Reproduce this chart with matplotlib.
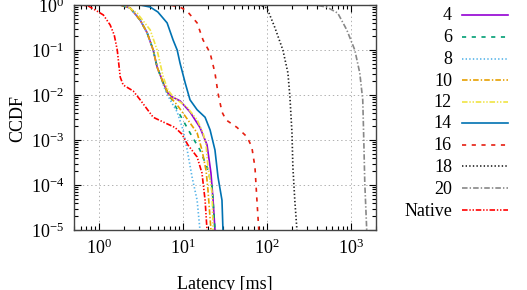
"""CCDF of request latency for different configurations, gnuplot-like look."""
import matplotlib
matplotlib.use("Agg")
import matplotlib.pyplot as plt
from matplotlib.lines import Line2D

plt.rcParams["font.family"] = ["Liberation Serif", "DejaVu Serif"]
plt.rcParams["mathtext.fontset"] = "custom"
plt.rcParams["mathtext.rm"] = "Liberation Serif"
plt.rcParams["mathtext.it"] = "Liberation Serif:italic"
plt.rcParams["mathtext.default"] = "regular"
plt.rcParams["lines.scale_dashes"] = False

W, H = 527, 290

# latency [ms] / CCDF
lat_4 = [0.5, 1.78, 2.34, 3.08, 3.73, 4.4, 4.9, 5.8, 6.6, 7.4, 9.2, 12.1, 15.9, 19.3, 21.5, 22.8, 24.0]
ccdf_4 = [1.0, 1.0, 0.86, 0.46, 0.24, 0.1, 0.042, 0.0185, 0.011, 0.0091, 0.0074, 0.0042, 0.0019, 7.8e-4, 1.85e-4, 4.6e-5, 1.0e-5]

lat_6 = [0.5, 1.78, 2.34, 3.08, 3.73, 4.4, 4.9, 5.8, 6.6, 7.4, 9.2, 12.1, 15.9, 19.3, 22.2, 24.0]
ccdf_6 = [1.0, 1.0, 0.86, 0.46, 0.24, 0.1, 0.042, 0.0185, 0.0105, 0.0078, 0.0036, 0.00144, 6e-4, 2.5e-4, 9e-5, 1.0e-5]

lat_8 = [0.5, 1.78, 2.34, 3.08, 3.73, 4.4, 4.9, 5.3, 6.1, 7.0, 8.5, 10.0, 11.2, 12.8, 14.7, 15.9]
ccdf_8 = [1.0, 1.0, 0.86, 0.46, 0.24, 0.1, 0.042, 0.028, 0.013, 0.0078, 0.0042, 0.00167, 6e-4, 1.5e-4, 4.6e-5, 1.0e-5]

lat_10 = [0.5, 1.78, 2.34, 3.08, 3.73, 4.4, 4.9, 5.8, 6.6, 7.0, 8.5, 11.4, 14.7, 16.8, 18.8, 19.8, 21.5]
ccdf_10 = [1.0, 1.0, 0.86, 0.46, 0.24, 0.1, 0.042, 0.0185, 0.011, 0.0091, 0.006, 0.0028, 0.00144, 6e-4, 2.1e-4, 7.8e-5, 1.0e-5]

lat_12 = [0.5, 2.04, 2.83, 4.05, 4.9, 5.8, 6.6, 7.6, 11.1, 14.7, 17.3, 18.8, 19.8, 22.2, 22.8]
ccdf_12 = [1.0, 1.0, 0.66, 0.28, 0.1, 0.025, 0.013, 0.0091, 0.0054, 0.0028, 0.00144, 7.8e-4, 2.5e-4, 6.6e-5, 1.0e-5]

lat_14 = [0.5, 3.08, 4.05, 5.0, 6.45, 7.6, 8.5, 9.2, 10.6, 12.1, 14.7, 18.3, 21.0, 24.0, 26.1, 29.1, 29.9]
ccdf_14 = [1.0, 1.0, 0.9, 0.7, 0.4, 0.167, 0.1, 0.051, 0.0185, 0.0078, 0.0047, 0.0032, 0.00167, 6e-4, 1.5e-4, 4.6e-5, 1.0e-5]

lat_16 = [0.5, 7.0, 9.2, 11.1, 14.7, 17.3, 21.0, 24.0, 26.1, 29.1, 32.5, 44.0, 58.0, 66.0, 72.0, 76.0, 80.0]
ccdf_16 = [1.0, 1.0, 0.9, 0.74, 0.4, 0.167, 0.086, 0.031, 0.011, 0.0042, 0.0028, 0.0019, 0.00117, 7e-4, 2.5e-4, 4.6e-5, 1.0e-5]

lat_18 = [0.5, 72.0, 87.0, 100.0, 124.0, 155.0, 178.0, 188.0, 199.0, 204.0, 215.0, 228.0]
ccdf_18 = [1.0, 1.0, 0.95, 0.86, 0.32, 0.1, 0.031, 0.0091, 0.00144, 2.5e-4, 4.6e-5, 1.0e-5]

lat_20 = [0.5, 373.0, 518.0, 700.0, 896.0, 1117.0, 1280.0, 1390.0, 1430.0, 1470.0, 1550.0]
ccdf_20 = [1.0, 1.0, 0.9, 0.66, 0.28, 0.1, 0.031, 0.0078, 0.001, 1.1e-4, 1.0e-5]

lat_nat = [0.5, 0.59, 0.74, 0.90, 1.12, 1.35, 1.51, 1.64, 1.78, 1.93, 2.54, 3.08, 4.4, 6.1, 8.0, 9.7,
           11.4, 14.7, 16.8, 18.3, 19.3]
ccdf_nat = [1.0, 1.0, 0.95, 0.77, 0.6, 0.36, 0.215, 0.1, 0.025, 0.0167, 0.0123, 0.0078, 0.0032, 0.0024,
            0.0019, 0.00135, 7.8e-4, 4.2e-4, 1.85e-4, 4.6e-5, 1.0e-5]

labels = ["4", "6", "8", "10", "12", "14", "16", "18", "20", "Native"]

# gnuplot default palette / dash types
DOT = (0, (1.0, 1.6))
DASH = (0, (3.0, 4.0))
DASHDOT = (0, (4.0, 1.5, 1.0, 1.5))
DASHDOTDOT = (0, (4.0, 1.3, 1.0, 1.3, 1.0, 1.3))
styles = [
    ("#9400D3", "-"),
    ("#009E73", DASH),
    ("#56B4E9", DOT),
    ("#E69F00", DASHDOT),
    ("#F0E442", DASHDOTDOT),
    ("#0072B2", "-"),
    ("#E51E10", DASH),
    ("#202020", DOT),
    ("#888888", DASHDOT),
    ("#FF0000", DASHDOTDOT),
]
series = [(lat_4, ccdf_4), (lat_6, ccdf_6), (lat_8, ccdf_8), (lat_10, ccdf_10),
          (lat_12, ccdf_12), (lat_14, ccdf_14), (lat_16, ccdf_16), (lat_18, ccdf_18),
          (lat_20, ccdf_20), (lat_nat, ccdf_nat)]

fig = plt.figure(figsize=(W / 100, H / 100), dpi=100)
ax = fig.add_axes([74 / W, 1 - 230 / H, (376 - 74) / W, (230 - 5) / H])

for (x, y), (c, ls) in zip(series, styles):
    ax.plot(x, y, color=c, ls=ls, lw=1.2)

ax.set_xscale("log")
ax.set_yscale("log")
ax.set_xlim(0.5, 2000)
ax.set_ylim(1e-5, 1)
ax.grid(True, which="major", color="#b0b0b0", ls=(0, (1, 2)), lw=0.7)
ax.tick_params(which="both", direction="in", top=True, right=True, labelsize=13, colors="black")
ax.tick_params(which="major", length=5, width=0.8)
ax.tick_params(which="minor", length=3, width=0.8)
ax.tick_params(axis="x", pad=6)
ax.tick_params(axis="y", pad=7)
for s in ax.spines.values():
    s.set_linewidth(1.0)
    s.set_color("#444444")

fig.text(18 / W, 1 - 119 / H, "CCDF", rotation=90, ha="center", va="center", fontsize=13)
fig.text(225 / W, 1 - 289 / H, "Latency [ms]", ha="center", va="baseline", fontsize=13)

# manual gnuplot-style key
row_y = [15, 37, 59, 80, 102, 123, 145, 166, 188, 210]
for lab, yy, (c, ls) in zip(labels, row_y, styles):
    fig.text(452 / W, 1 - (yy + 1) / H, lab, ha="right", va="center", fontsize=13)
    fig.add_artist(Line2D([462 / W, 508 / W], [1 - yy / H, 1 - yy / H],
                          transform=fig.transFigure, color=c, ls=ls, lw=1.2))

fig.savefig("out.png", dpi=100)
